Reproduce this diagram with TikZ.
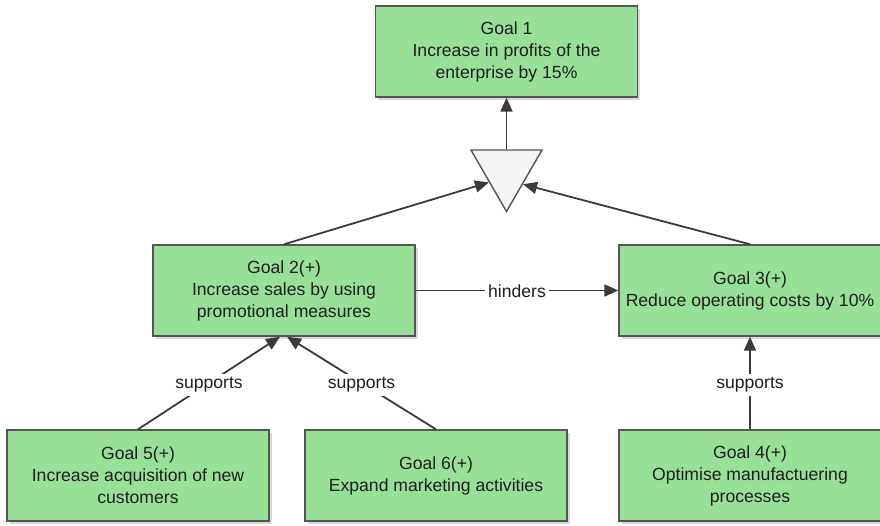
\documentclass[tikz,border=0pt]{standalone}
\usepackage{fontspec}
\setmainfont{Liberation Sans}
\usetikzlibrary{arrows.meta,shapes.geometric,shadows,calc}
\definecolor{goalfill}{HTML}{98E098}
\definecolor{goalline}{HTML}{555555}
\definecolor{linkcol}{HTML}{3A3A3A}
\definecolor{txt}{HTML}{1E1E1E}
\begin{document}
\begin{tikzpicture}[x=1pt,y=-1pt,
  goal/.style={draw=goalline, line width=1.4pt, fill=goalfill,
    minimum width=262pt, minimum height=91pt, align=center, text=txt,
    font=\fontsize{17.6}{22}\selectfont,
    drop shadow={shadow xshift=2.5pt, shadow yshift=-2.5pt, fill=black!25, opacity=0.6}},
  andgate/.style={regular polygon, regular polygon sides=3, shape border rotate=180,
    draw=goalline, line width=1.4pt, fill=black!4, minimum size=82pt, inner sep=0pt},
  link/.style={draw=linkcol, line width=1.8pt,
    -{Triangle[length=14pt,width=12pt]}},
  lbl/.style={fill=white, text=txt, font=\fontsize{17.6}{20}\selectfont, inner sep=3pt,
    yshift=-2pt}]
\useasboundingbox (0,0) rectangle (880,525);

% goal boxes
\node[goal] (g1) at (506.5,51.5) {Goal 1\\Increase in profits of the\\enterprise by 15\%};
\node[goal] (g2) at (284,290.5) {Goal 2(+)\\Increase sales by using\\promotional measures};
\node[goal] (g3) at (750,290.5) {Goal 3(+)\\Reduce operating costs by 10\%};
\node[goal] (g5) at (138,475.5) {Goal 5(+)\\Increase acquisition of new\\customers};
\node[goal] (g6) at (436,475.5) {Goal 6(+)\\Expand marketing activities};
\node[goal] (g4) at (750,475.5) {Goal 4(+)\\Optimise manufactuering\\processes};

% aggregation triangle
\node[andgate] (tri) at (506.5,170.5) {};
\coordinate (triL) at ($(tri.corner 3)!0.52!(tri.corner 1)$);
\coordinate (triR) at ($(tri.corner 2)!0.55!(tri.corner 1)$);

% connectors
\draw[link] (tri.north) -- (g1.south);
\draw[link] (g2.north) -- (triL);
\draw[link] (g3.north) -- (triR);
\draw[link] (g2.east) -- node[lbl, yshift=1pt] {hinders} (g3.west);
\draw[link] (g5.north) -- node[lbl, pos=0.5] {supports} ($(g2.south)+(-4,0)$);
\draw[link] (g6.north) -- node[lbl, pos=0.5] {supports} ($(g2.south)+(3,0)$);
\draw[link] (g4.north) -- node[lbl] {supports} (g3.south);
\end{tikzpicture}
\end{document}
